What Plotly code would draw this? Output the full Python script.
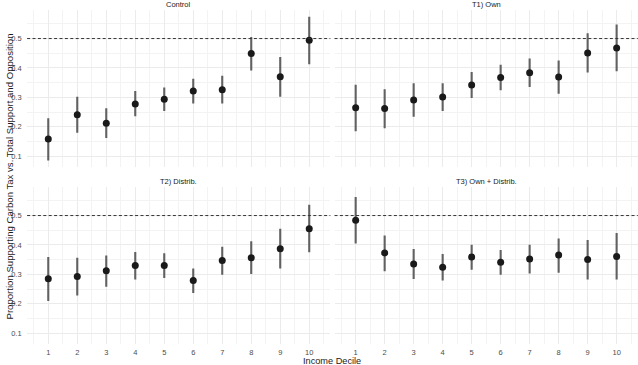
import plotly.graph_objects as go

deciles = [1, 2, 3, 4, 5, 6, 7, 8, 9, 10]
panel_titles = ["Control", "T1) Own", "T2) Distrib.", "T3) Own + Distrib."]

control_est = [0.159, 0.241, 0.212, 0.278, 0.294, 0.322, 0.326, 0.449, 0.370, 0.494]
control_lo = [0.086, 0.180, 0.162, 0.236, 0.254, 0.279, 0.279, 0.391, 0.302, 0.413]
control_hi = [0.229, 0.302, 0.263, 0.322, 0.334, 0.363, 0.374, 0.505, 0.437, 0.574]

own_est = [0.265, 0.262, 0.291, 0.301, 0.342, 0.368, 0.384, 0.369, 0.451, 0.468]
own_lo = [0.185, 0.195, 0.234, 0.254, 0.298, 0.324, 0.335, 0.312, 0.385, 0.389]
own_hi = [0.343, 0.328, 0.348, 0.348, 0.386, 0.411, 0.432, 0.425, 0.518, 0.548]

distrib_est = [0.285, 0.293, 0.312, 0.330, 0.330, 0.279, 0.347, 0.357, 0.387, 0.455]
distrib_lo = [0.210, 0.228, 0.258, 0.283, 0.288, 0.237, 0.299, 0.301, 0.320, 0.375]
distrib_hi = [0.359, 0.357, 0.364, 0.376, 0.372, 0.320, 0.394, 0.413, 0.455, 0.537]

owndist_est = [0.484, 0.373, 0.335, 0.324, 0.359, 0.341, 0.352, 0.366, 0.351, 0.361]
owndist_lo = [0.405, 0.311, 0.284, 0.279, 0.316, 0.299, 0.303, 0.306, 0.283, 0.283]
owndist_hi = [0.563, 0.432, 0.386, 0.369, 0.401, 0.383, 0.401, 0.422, 0.417, 0.441]

reference_line = 0.5

panels = [
    (control_est, control_lo, control_hi),
    (own_est, own_lo, own_hi),
    (distrib_est, distrib_lo, distrib_hi),
    (owndist_est, owndist_lo, owndist_hi),
]

FONT = "Liberation Sans, Arial, Helvetica, sans-serif"
W, H = 638, 365

# panel pixel boxes (left, right, top, bottom)
boxes = [
    (27.1, 330.4, 10, 167),
    (334.5, 637.8, 10, 167),
    (27.1, 330.4, 187, 344),
    (334.5, 637.8, 187, 344),
]

fig = go.Figure()
layout = dict(
    width=W, height=H,
    margin=dict(l=0, r=0, t=0, b=0, autoexpand=False),
    paper_bgcolor="white", plot_bgcolor="white",
    showlegend=False,
    font=dict(family=FONT, size=8, color="#4d4d4d"),
)

shapes = []
annotations = []
for i, ((est, lo, hi), title, box) in enumerate(zip(panels, panel_titles, boxes)):
    n = "" if i == 0 else str(i + 1)
    xa, ya = "x" + n, "y" + n
    fig.add_trace(go.Scatter(
        x=deciles, y=est, mode="markers", xaxis=xa, yaxis=ya,
        marker=dict(color="#1a1a1a", size=7),
        error_y=dict(type="data", symmetric=False,
                     array=[h - e for h, e in zip(hi, est)],
                     arrayminus=[e - l for e, l in zip(est, lo)],
                     color="#616161", thickness=2.1, width=0),
    ))
    l, r, t, b = box
    row_bottom = i >= 2
    col_left = i % 2 == 0
    layout["xaxis" + n] = dict(
        domain=[l / W, r / W], anchor=ya, range=[0.27, 10.73],
        tickmode="linear", tick0=0, dtick=1,
        showticklabels=row_bottom, automargin=False,
        tickfont=dict(size=7.5, color="#4d4d4d", family=FONT),
        ticks="outside", ticklen=0.5, tickcolor="rgba(0,0,0,0)",
        showgrid=True, gridcolor="#ebebeb", gridwidth=1,
        minor=dict(dtick=0.5, tick0=0.5, showgrid=True, gridcolor="#f3f3f3", gridwidth=0.7),
        zeroline=False, showline=False, fixedrange=True,
    )
    layout["yaxis" + n] = dict(
        domain=[1 - b / H, 1 - t / H], anchor=xa, range=[0.0635, 0.597],
        tickmode="linear", tick0=0, dtick=0.1, tickformat=".1f",
        showticklabels=col_left, automargin=False,
        tickfont=dict(size=7.5, color="#4d4d4d", family=FONT),
        ticks="outside", ticklen=3, tickcolor="rgba(0,0,0,0)",
        showgrid=True, gridcolor="#ebebeb", gridwidth=1,
        minor=dict(dtick=0.05, tick0=0.05, showgrid=True, gridcolor="#f3f3f3", gridwidth=0.7),
        zeroline=False, showline=False, fixedrange=True,
    )
    shapes.append(dict(
        type="line", xref=xa + " domain", yref=ya, x0=0, x1=1,
        y0=reference_line, y1=reference_line,
        line=dict(color="#333333", width=1, dash="3px,2.4px"), layer="above",
    ))
    annotations.append(dict(
        text=title, xref=xa + " domain", yref=ya + " domain",
        x=0.5, y=1, xanchor="center", yanchor="bottom", yshift=-1,
        showarrow=False, font=dict(size=7.5, color="#1a1a1a", family=FONT),
    ))

annotations.append(dict(
    text="Income Decile", xref="paper", yref="paper",
    x=(27.1 + 637.8) / 2 / W, y=0, xanchor="center", yanchor="bottom", yshift=-3,
    showarrow=False, font=dict(size=9.2, color="#1a1a1a", family=FONT),
))
annotations.append(dict(
    text="Proportion Supporting Carbon Tax vs. Total Support and Opposition",
    xref="paper", yref="paper", x=0, y=1 - 177 / H,
    xanchor="left", yanchor="middle", textangle=-90, xshift=1,
    showarrow=False, font=dict(size=9.6, color="#1a1a1a", family=FONT),
))

layout["shapes"] = shapes
layout["annotations"] = annotations
fig.update_layout(**layout)
fig.write_html(
    "out.html",
    config={"displayModeBar": False},
    post_script="document.body.style.margin='0';document.body.style.padding='0';document.body.style.overflow='hidden';",
)
